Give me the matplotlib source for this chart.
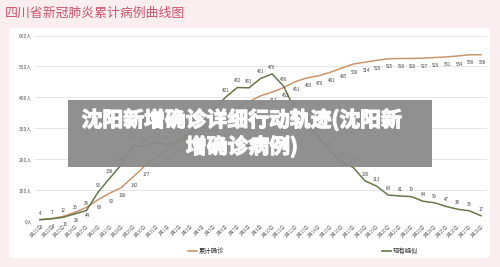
import matplotlib
matplotlib.use("Agg")
import matplotlib.pyplot as plt
import matplotlib.patheffects as pe
from matplotlib.patches import FancyBboxPatch, Rectangle
from matplotlib.lines import Line2D

plt.rcParams['font.family'] = ['Noto Sans CJK SC', 'DejaVu Sans']

dates = (["1月%d日" % d for d in range(21, 32)] +
         ["2月%d日" % d for d in range(1, 29)])
cumulative = [5, 8, 15, 28, 44, 69, 90, 108, 142, 177,
              207, 231, 254, 282, 301, 321, 344, 363, 386, 405,
              417, 432, 451, 463, 470, 481, 495, 508, 514, 520,
              525, 526, 526, 527, 529, 531, 534, 538, 538]
suspected = [4, 7, 12, 23, 34, 93, 138, 182, 243, 241,
             256, 247, 262, 287, 318, 360, 401, 432, 431, 461,
             476, 436, 357, 310, 270, 227, 191, 173, 130, 113,
             84, 81, 79, 64, 59, 47, 38, 33, 17]
yticks = [0, 100, 200, 300, 400, 500, 600]
title = "四川省新冠肺炎累计病例曲线图"
series_names = ["累计确诊", "现有疑似"]
banner = "沈阳新增确诊详细行动轨迹(沈阳新\n增确诊病例)"

W, H = 500, 267
fig = plt.figure(figsize=(W / 100, H / 100), dpi=100)
fig.patch.set_facecolor("#fbeef1")

# white panel
fig.patches.append(FancyBboxPatch((9 / W, 9 / H), 481 / W, 230 / H,
                                  boxstyle="round,pad=0,rounding_size=0.01",
                                  transform=fig.transFigure, facecolor="white",
                                  edgecolor="none", zorder=-5))

fig.text(5 / W, 1 - 13 / H, title, fontsize=9.3, color="#c9566e",
         ha="left", va="center")

ax_left, ax_right = 35, 487
ax_top, ax_bot = 35.6, 221
ax = fig.add_axes([ax_left / W, 1 - ax_bot / H, (ax_right - ax_left) / W,
                   (ax_bot - ax_top) / H])
ax.set_facecolor("none")
ax.set_zorder(1)
n = len(dates)
x = list(range(n))
sc = 441 / 38
ax.set_xlim(-5 / sc, 38 + 6 / sc)
ax.set_ylim(0, 600)

brown = "#c9956a"
green = "#66774a"
ax.plot(x, cumulative, color=brown, lw=1.1, zorder=3, clip_on=False)
ax.plot(x, suspected, color=green, lw=1.1, zorder=3, clip_on=False)

for xi, v in zip(x, cumulative):
    ax.annotate(str(v), (xi, v), xytext=(1, -4), textcoords="offset points",
                fontsize=3.2, color="#444444", ha="center", va="top", zorder=4)
for xi, v in zip(x, suspected):
    ax.annotate(str(v), (xi, v), xytext=(0, 3), textcoords="offset points",
                fontsize=3.2, color="#444444", ha="center", va="bottom", zorder=4)

ax.set_yticks(yticks)
ax.set_yticklabels(["%d人" % v for v in yticks], fontsize=3.6, color="#555555")
ax.set_xticks(x)
ax.set_xticklabels(dates, rotation=45, ha="right", rotation_mode="anchor",
                   fontsize=3.2, color="#666666")
ax.tick_params(length=0, pad=2)
ax.grid(axis="y", color="#e6e6e6", lw=0.7)
ax.set_axisbelow(True)
for s in ax.spines.values():
    s.set_visible(False)
ax.axhline(0, color="#d9d9d9", lw=0.8, zorder=1)

# legend
for (x0, name, col) in [(188, series_names[0], brown), (382, series_names[1], green)]:
    fig.lines.append(Line2D([x0 / W, (x0 + 9) / W], [1 - 251 / H, 1 - 251 / H],
                            transform=fig.transFigure, color=col, lw=1.2))
    fig.text((x0 + 11) / W, 1 - 251 / H, name, fontsize=4.6, color="#333333",
             ha="left", va="center")

# banner overlay
fig.patches.append(Rectangle((68 / W, 1 - 167 / H), 364 / W, 67 / H,
                             transform=fig.transFigure, facecolor="#8a8a8a",
                             alpha=0.95, edgecolor="none", zorder=10))
fig.text(242 / W, 1 - 133 / H, banner, fontsize=15, color="white",
         fontweight="bold", ha="center", va="center", linespacing=1.25,
         zorder=11,
         path_effects=[pe.withStroke(linewidth=0.9, foreground="white")])

fig.savefig("out.png", dpi=100, facecolor=fig.get_facecolor())
